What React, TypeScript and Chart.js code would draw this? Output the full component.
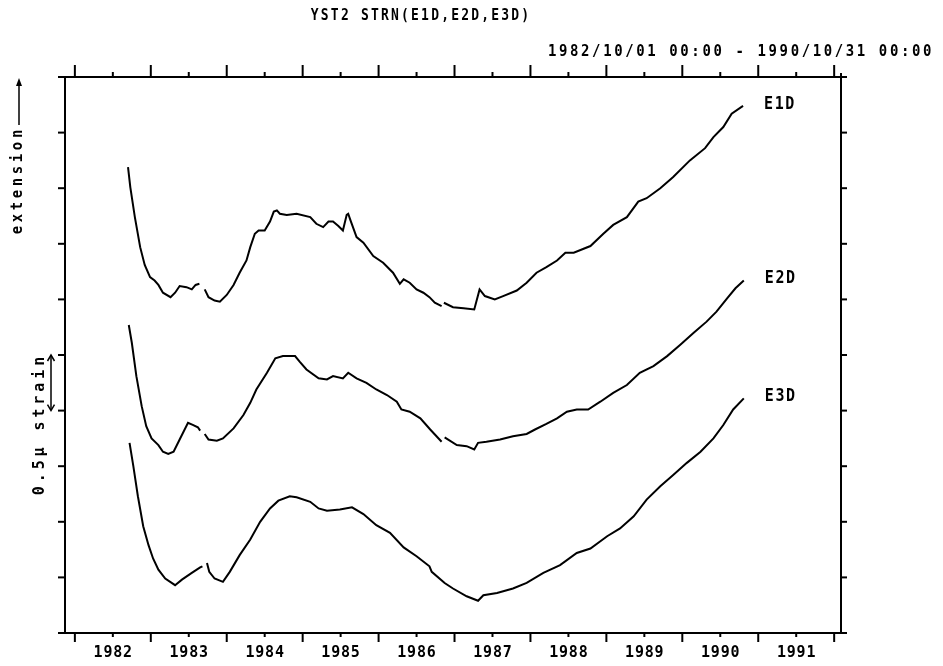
import React, { useEffect, useRef } from "react";
import { Chart, registerables } from "chart.js";

Chart.register(...registerables);

// ---- data (decimal year, strain in µstrain; null = data gap) ----
const E1D_T = [
  1982.70, 1982.73, 1982.79, 1982.86, 1982.92, 1982.99, 1983.05, 1983.10, 1983.16, 1983.26,
  1983.32, 1983.38, 1983.47, 1983.54, 1983.59, 1983.64, 1983.675,
  1983.71, 1983.76, 1983.84, 1983.91, 1984.00, 1984.09, 1984.17, 1984.26, 1984.31, 1984.37,
  1984.42, 1984.50, 1984.57, 1984.62, 1984.66, 1984.70, 1984.79, 1984.92, 1985.10, 1985.18,
  1985.27, 1985.34, 1985.40, 1985.47, 1985.53, 1985.58, 1985.60, 1985.63, 1985.71, 1985.80,
  1985.93, 1986.06, 1986.19, 1986.28, 1986.33, 1986.41, 1986.50, 1986.59, 1986.67, 1986.74,
  1986.83, 1986.845,
  1986.86, 1986.98, 1987.12, 1987.26, 1987.33, 1987.40, 1987.53, 1987.64, 1987.82, 1987.95,
  1988.08, 1988.21, 1988.35, 1988.46, 1988.57, 1988.79, 1988.96, 1989.09, 1989.27, 1989.42,
  1989.53, 1989.71, 1989.88, 1990.10, 1990.30, 1990.41, 1990.54, 1990.65, 1990.80,
];
const E1D_V = [
  4.19, 4.01, 3.74, 3.47, 3.31, 3.20, 3.17, 3.13, 3.06, 3.02,
  3.06, 3.12, 3.11, 3.09, 3.13, 3.14, null,
  3.09, 3.02, 2.99, 2.98, 3.04, 3.13, 3.24, 3.35, 3.47, 3.59,
  3.62, 3.62, 3.70, 3.79, 3.80, 3.77, 3.76, 3.77, 3.74, 3.68,
  3.65, 3.70, 3.70, 3.66, 3.62, 3.76, 3.77, 3.71, 3.56, 3.51,
  3.39, 3.33, 3.24, 3.14, 3.18, 3.15, 3.09, 3.06, 3.02, 2.97,
  2.94, null,
  2.97, 2.93, 2.92, 2.91, 3.09, 3.03, 3.00, 3.03, 3.08, 3.15,
  3.24, 3.29, 3.35, 3.42, 3.42, 3.48, 3.59, 3.67, 3.74, 3.88,
  3.91, 4.00, 4.10, 4.25, 4.36, 4.46, 4.55, 4.67, 4.74,
];

const E2D_T = [
  1982.71, 1982.75, 1982.81, 1982.88, 1982.94, 1983.01, 1983.10, 1983.16, 1983.23, 1983.30,
  1983.38, 1983.49, 1983.56, 1983.62, 1983.65, 1983.68,
  1983.71, 1983.76, 1983.87, 1983.95, 1984.09, 1984.22, 1984.31, 1984.39, 1984.53, 1984.64,
  1984.74, 1984.90, 1984.96, 1985.05, 1985.21, 1985.32, 1985.40, 1985.53, 1985.60, 1985.71,
  1985.84, 1985.97, 1986.11, 1986.24, 1986.30, 1986.41, 1986.55, 1986.68, 1986.83, 1986.85,
  1986.87, 1987.03, 1987.16, 1987.26, 1987.31, 1987.42, 1987.60, 1987.77, 1987.95, 1988.06,
  1988.21, 1988.35, 1988.48, 1988.61, 1988.76, 1988.92, 1989.09, 1989.27, 1989.44, 1989.62,
  1989.80, 1989.97, 1990.15, 1990.32, 1990.45, 1990.59, 1990.70, 1990.81,
];
const E2D_V = [
  2.77, 2.61, 2.31, 2.04, 1.86, 1.75, 1.69, 1.63, 1.61, 1.63,
  1.74, 1.89, 1.87, 1.85, 1.82, null,
  1.79, 1.74, 1.73, 1.75, 1.84, 1.96, 2.07, 2.19, 2.34, 2.47,
  2.49, 2.49, 2.44, 2.37, 2.29, 2.28, 2.31, 2.29, 2.34, 2.29,
  2.25, 2.19, 2.14, 2.08, 2.01, 1.99, 1.93, 1.83, 1.72, null,
  1.76, 1.69, 1.68, 1.65, 1.71, 1.72, 1.74, 1.77, 1.79, 1.83,
  1.88, 1.93, 1.99, 2.01, 2.01, 2.08, 2.16, 2.23, 2.34, 2.40,
  2.49, 2.59, 2.70, 2.80, 2.89, 3.01, 3.10, 3.17,
];

const E3D_T = [
  1982.72, 1982.77, 1982.83, 1982.90, 1982.97, 1983.03, 1983.10, 1983.19, 1983.32, 1983.41,
  1983.54, 1983.65, 1983.68, 1983.71,
  1983.74, 1983.77, 1983.84, 1983.95, 1984.04, 1984.17, 1984.31, 1984.44, 1984.57, 1984.68,
  1984.83, 1984.92, 1985.10, 1985.21, 1985.32, 1985.49, 1985.65, 1985.80, 1985.97, 1986.15,
  1986.33, 1986.50, 1986.67, 1986.70, 1986.87, 1986.98, 1987.16, 1987.31, 1987.38, 1987.56,
  1987.77, 1987.95, 1988.17, 1988.39, 1988.61, 1988.79, 1989.01, 1989.18, 1989.36, 1989.53,
  1989.71, 1989.88, 1990.06, 1990.24, 1990.41, 1990.54, 1990.67, 1990.81,
];
const E3D_V = [
  1.71, 1.50, 1.23, 0.96, 0.79, 0.67, 0.57, 0.49, 0.43, 0.48,
  0.54, 0.59, 0.60, null,
  0.63, 0.55, 0.49, 0.46, 0.55, 0.70, 0.84, 1.00, 1.12, 1.19,
  1.23, 1.22, 1.18, 1.12, 1.10, 1.11, 1.13, 1.07, 0.97, 0.90,
  0.77, 0.69, 0.60, 0.55, 0.45, 0.40, 0.33, 0.29, 0.34, 0.36,
  0.40, 0.45, 0.54, 0.61, 0.72, 0.76, 0.87, 0.94, 1.05, 1.20,
  1.32, 1.42, 1.53, 1.63, 1.75, 1.87, 2.01, 2.11,
];

const SERIES_NAMES = ["E1D", "E2D", "E3D"];
const YEAR_TICKS = [1982, 1983, 1984, 1985, 1986, 1987, 1988, 1989, 1990, 1991, 1992];
const YEAR_LABELS = ["1982", "1983", "1984", "1985", "1986", "1987", "1988", "1989", "1990", "1991"];
const Y_TICKS = [0, 0.5, 1, 1.5, 2, 2.5, 3, 3.5, 4, 4.5, 5];
const SCALE_BAR = [2.0, 2.5]; // 0.5 µstrain bar
const X_MIN = 1981.87;
const X_MAX = 1992.09;
const Y_MIN = 0;
const Y_MAX = 5;

const TITLE = "YST2 STRN(E1D,E2D,E3D)";
const PERIOD = "1982/10/01 00:00 - 1990/10/31 00:00";
const LABEL_EXT = "extension";
const LABEL_STRAIN = "0.5\u00B5 strain";

const FONT = '"DejaVu Sans Mono", "Liberation Mono", monospace';

function drawText(
  ctx: CanvasRenderingContext2D,
  s: string,
  x: number,
  y: number,
  size: number,
  spacing: number,
  align: CanvasTextAlign,
  sy: number,
  rot = 0
) {
  ctx.save();
  ctx.translate(x, y);
  if (rot) ctx.rotate(rot);
  ctx.scale(1, sy);
  ctx.font = `bold ${size}px ${FONT}`;
  (ctx as any).letterSpacing = `${spacing}px`;
  ctx.textAlign = align;
  ctx.textBaseline = "middle";
  ctx.fillStyle = "#000";
  ctx.fillText(s, align === "center" ? spacing / 2 : 0, 0);
  ctx.restore();
}

const framePlugin = {
  id: "frame",
  afterDraw(chart: any) {
    const { ctx, chartArea: a } = chart;
    const xs = chart.scales.x;
    const ys = chart.scales.y;
    ctx.save();
    ctx.strokeStyle = "#000";
    ctx.fillStyle = "#000";
    ctx.lineWidth = 2;
    const line = (x1: number, y1: number, x2: number, y2: number) => {
      ctx.beginPath();
      ctx.moveTo(x1, y1);
      ctx.lineTo(x2, y2);
      ctx.stroke();
    };
    // frame
    line(a.left - 7, a.top, a.right + 1, a.top);
    line(a.left - 6, a.bottom, a.right + 1, a.bottom);
    line(a.left, a.top - 1, a.left, a.bottom + 1);
    line(a.right, a.top - 4, a.right, a.bottom + 1);

    // year ticks (top & bottom)
    YEAR_TICKS.forEach((yr, i) => {
      const px = xs.getPixelForValue(yr);
      line(px, a.bottom, px, a.bottom + 9);
      line(px, a.top, px, a.top - 12);
      if (i < YEAR_TICKS.length - 1) {
        const mx = xs.getPixelForValue((yr + YEAR_TICKS[i + 1]) / 2);
        line(mx, a.bottom, mx, a.bottom + 4);
        line(mx, a.top, mx, a.top - 5);
      }
    });
    // strain ticks (left & right)
    Y_TICKS.forEach((v) => {
      const py = ys.getPixelForValue(v);
      line(a.left, py, a.left - 7, py);
      line(a.right, py, a.right + 6, py);
    });

    // year labels between ticks
    YEAR_LABELS.forEach((lab, i) => {
      const px = xs.getPixelForValue((YEAR_TICKS[i] + YEAR_TICKS[i + 1]) / 2);
      drawText(ctx, lab, px, a.bottom + 20, 15, 0.8, "center", 1.1);
    });

    // title and period
    drawText(ctx, TITLE, 420, 16, 13, 2.2, "center", 1.18);
    drawText(ctx, PERIOD, 548, 52, 14, 2.6, "left", 1.15);

    // series labels at the end of each curve
    chart.data.datasets.forEach((ds: any, i: number) => {
      const last = ds.data[ds.data.length - 1];
      const px = xs.getPixelForValue(last.x);
      const py = ys.getPixelForValue(last.y);
      drawText(ctx, SERIES_NAMES[i], px + 21, py - 2, 15, 1.6, "left", 1.2);
    });

    // rotated y labels
    drawText(ctx, LABEL_EXT, 18, 182, 14, 3.6, "center", 1.1, -Math.PI / 2);
    drawText(ctx, LABEL_STRAIN, 40, 426, 15, 3.9, "center", 1.1, -Math.PI / 2);

    // extension arrow
    ctx.lineWidth = 1.5;
    line(19, 125, 19, 84);
    ctx.beginPath();
    ctx.moveTo(19, 78);
    ctx.lineTo(16, 86);
    ctx.lineTo(22, 86);
    ctx.closePath();
    ctx.fill();

    // 0.5 µstrain double arrow
    const yTop = ys.getPixelForValue(SCALE_BAR[1]);
    const yBot = ys.getPixelForValue(SCALE_BAR[0]);
    const ax = 51;
    ctx.lineWidth = 1.5;
    line(ax, yTop + 1, ax, yBot - 1);
    ctx.beginPath();
    ctx.moveTo(ax - 3.5, yTop + 6);
    ctx.lineTo(ax, yTop);
    ctx.lineTo(ax + 3.5, yTop + 6);
    ctx.stroke();
    ctx.beginPath();
    ctx.moveTo(ax - 3.5, yBot - 6);
    ctx.lineTo(ax, yBot);
    ctx.lineTo(ax + 3.5, yBot - 6);
    ctx.stroke();

    ctx.restore();
  },
};

const toPoints = (t: number[], v: (number | null)[]) => t.map((x, i) => ({ x, y: v[i] }));

export default function App() {
  const ref = useRef<HTMLCanvasElement | null>(null);
  useEffect(() => {
    if (!ref.current) return;
    const style = {
      borderColor: "#000",
      backgroundColor: "#000",
      borderWidth: 2,
      pointRadius: 0,
      tension: 0,
      spanGaps: false,
      fill: false,
    };
    const chart = new Chart(ref.current, {
      type: "line",
      data: {
        datasets: [
          { label: SERIES_NAMES[0], data: toPoints(E1D_T, E1D_V), ...style },
          { label: SERIES_NAMES[1], data: toPoints(E2D_T, E2D_V), ...style },
          { label: SERIES_NAMES[2], data: toPoints(E3D_T, E3D_V), ...style },
        ],
      } as any,
      options: {
        responsive: false,
        animation: false,
        devicePixelRatio: 1,
        layout: { padding: { left: 65, right: 102, top: 77, bottom: 33 } },
        plugins: {
          legend: { display: false },
          tooltip: { enabled: false },
          title: { display: false },
        },
        scales: {
          x: { type: "linear", min: X_MIN, max: X_MAX, display: false },
          y: { type: "linear", min: Y_MIN, max: Y_MAX, display: false },
        },
      } as any,
      plugins: [framePlugin],
    });
    return () => chart.destroy();
  }, []);
  return (
    <div style={{ position: "absolute", left: 0, top: 0, width: 943, height: 666, background: "#fff" }}>
      <canvas ref={ref} width={943} height={666} style={{ display: "block" }} />
    </div>
  );
}
